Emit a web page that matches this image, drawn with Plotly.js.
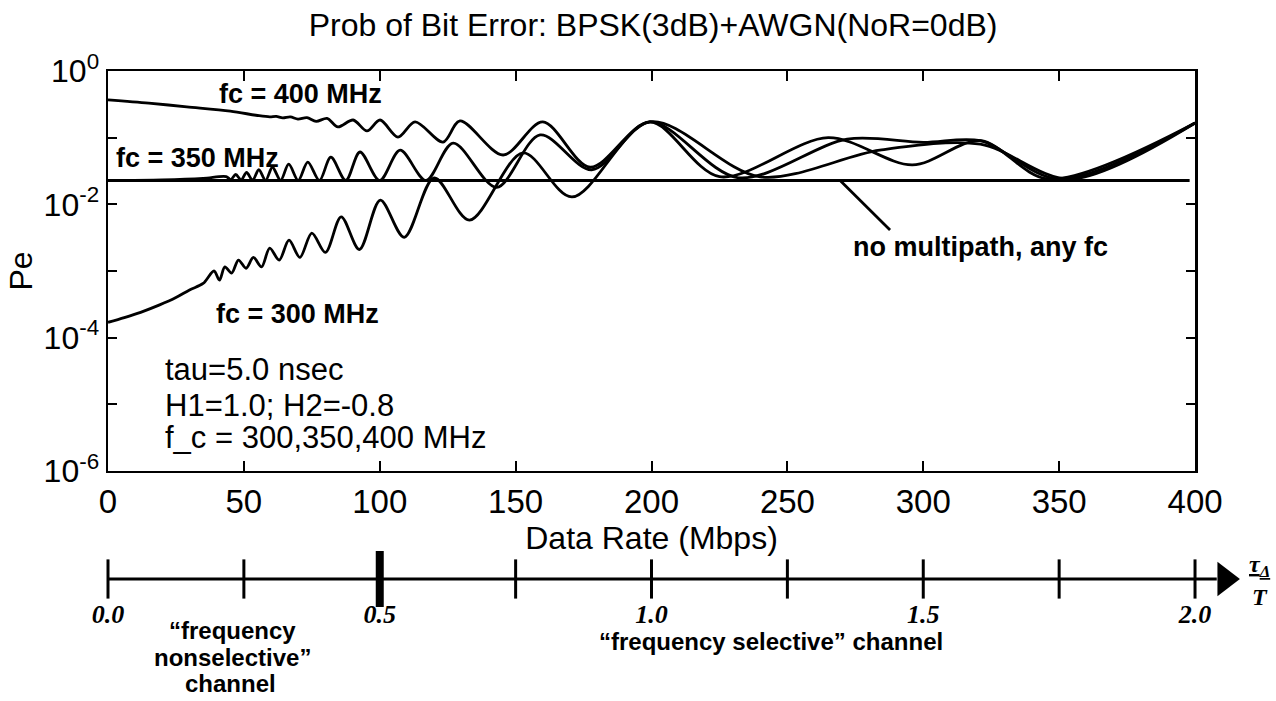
<!DOCTYPE html>
<html><head><meta charset="utf-8">
<script src="https://cdn.plot.ly/plotly-3.0.1.min.js"></script>
<style>html,body{margin:0;padding:0;background:#fff;} #chart{width:1276px;height:701px;}</style>
</head><body><div id="chart"></div>
<script>
// ---- data ----
const rate400 = [0, 15, 29, 45, 55, 59.5, 61.9, 64.3, 67.1, 69.9, 73.2, 76.6, 80.6, 84.6, 90.2, 95.3, 100.1, 106.7, 113, 123.3, 129.5, 145.4, 160, 177.4, 199.4, 225, 265, 296, 321, 346, 400];
const pe400   = [0.37, 0.33, 0.29, 0.25, 0.215, 0.205, 0.208, 0.198, 0.205, 0.19, 0.2, 0.175, 0.195, 0.145, 0.184, 0.126, 0.184, 0.102, 0.172, 0.086, 0.178, 0.055, 0.172, 0.036, 0.172, 0.026, 0.10, 0.039, 0.09, 0.024, 0.166];

const rate350 = [0, 20, 35, 43.5, 45.2, 47, 49, 51, 53.2, 55.5, 58, 60.5, 63.5, 66.5, 70, 73.5, 77.8, 82, 87.5, 92.7, 100, 107.5, 117, 127, 143, 159, 178, 199.4, 232, 272, 300, 321, 350, 400];
const pe350   = [0.0228, 0.0233, 0.0245, 0.026, 0.0235, 0.028, 0.0232, 0.030, 0.0230, 0.033, 0.0229, 0.036, 0.0229, 0.040, 0.0228, 0.043, 0.0228, 0.051, 0.0228, 0.061, 0.0228, 0.065, 0.0228, 0.083, 0.018, 0.11, 0.033, 0.172, 0.025, 0.095, 0.085, 0.09, 0.024, 0.166];

const rate300 = [0, 6, 12, 19, 25, 30, 35, 39, 41, 43, 45.5, 48, 50.8, 53.5, 56.5, 59.5, 63, 66.6, 70.6, 75, 80, 85.8, 92.5, 100.2, 109, 120, 133, 152.7, 170.7, 199.4, 240, 284, 321, 354, 400];
const pe300   = [1.7e-4, 2.0e-4, 2.4e-4, 3.1e-4, 4.0e-4, 5.2e-4, 6.5e-4, 1.0e-3, 7.3e-4, 1.15e-3, 9.3e-4, 1.46e-3, 1.1e-3, 1.6e-3, 1.15e-3, 2.2e-3, 1.46e-3, 2.9e-3, 1.6e-3, 3.7e-3, 1.9e-3, 6.5e-3, 2.1e-3, 1.16e-2, 3.2e-3, 2.5e-2, 5.8e-3, 5.9e-2, 1.29e-2, 0.172, 0.0258, 0.065, 0.08, 0.024, 0.166];

const rateNoMp = [0, 398];
const peNoMp   = [0.0228, 0.0228];

const rateTicks  = [0, 50, 100, 150, 200, 250, 300, 350, 400];
const peTickVals = [1, 0.1, 0.01, 0.001, 1e-4, 1e-5, 1e-6];
const peTickText = ['10<sup>0</sup>', ' ', '10<sup>-2</sup>', ' ', '10<sup>-4</sup>', ' ', '10<sup>-6</sup>'];

const tauMinorTicks = [0, 0.25, 0.75, 1.0, 1.25, 1.5, 1.75, 2.0];
const tauMajorTick  = [0.5];
const tauLabelVals  = [0, 0.5, 1.0, 1.5, 2.0];
const tauLabelText  = ['0.0', '0.5', '1.0', '1.5', '2.0'];
const tauAxisSpan   = [0, 2.04];
const tauArrowAt    = [2.055];

// ---- drawing ----
const SANS = 'Liberation Sans, Arial, Helvetica, sans-serif';
const SERIF = 'Liberation Serif, Times New Roman, serif';
const curveLine = {color: '#000', width: 2.8, shape: 'spline', smoothing: 0.9};

const traces = [
  {x: rate400, y: pe400, mode: 'lines', line: curveLine, xaxis: 'x', yaxis: 'y', hoverinfo: 'skip'},
  {x: rate350, y: pe350, mode: 'lines', line: curveLine, xaxis: 'x', yaxis: 'y', hoverinfo: 'skip'},
  {x: rate300, y: pe300, mode: 'lines', line: curveLine, xaxis: 'x', yaxis: 'y', hoverinfo: 'skip'},
  {x: rateNoMp, y: peNoMp, mode: 'lines', line: {color: '#000', width: 3}, xaxis: 'x', yaxis: 'y', hoverinfo: 'skip'},
  {x: tauAxisSpan, y: tauAxisSpan.map(() => 0), mode: 'lines', line: {color: '#000', width: 3}, xaxis: 'x2', yaxis: 'y2', hoverinfo: 'skip'},
  {x: tauMinorTicks, y: tauMinorTicks.map(() => 0), mode: 'markers', cliponaxis: false,
   marker: {symbol: 'line-ns', size: 28, color: '#000', line: {color: '#000', width: 3}}, xaxis: 'x2', yaxis: 'y2', hoverinfo: 'skip'},
  {x: tauMajorTick, y: [0], mode: 'markers', cliponaxis: false,
   marker: {symbol: 'line-ns', size: 40, color: '#000', line: {color: '#000', width: 8}}, xaxis: 'x2', yaxis: 'y2', hoverinfo: 'skip'},
  {x: tauArrowAt, y: [0], mode: 'markers', cliponaxis: false,
   marker: {symbol: 'triangle-right', size: 30, color: '#000'}, xaxis: 'x2', yaxis: 'y2', hoverinfo: 'skip'}
];

const boldFont = {family: SANS, size: 27, color: '#000', weight: 'bold'};
const plainFont = {family: SANS, size: 31, color: '#000'};
const chanFont = {family: SANS, size: 24, color: '#000', weight: 'bold'};
const fracFont = {family: SERIF, size: 24, color: '#000', weight: 'bold', style: 'italic'};

function note(text, x, y, ref, font, xanchor) {
  return {text: text, x: x, y: y, xref: ref[0], yref: ref[1], showarrow: false, font: font,
          xanchor: xanchor || 'center', yanchor: 'middle'};
}
const DATA = ['x', 'y'], PAPER = ['paper', 'paper'];

const annotations = [
  note('fc = 400 MHz', 70.7, -0.345, DATA, boldFont),
  note('fc = 350 MHz', 32.8, -1.305, DATA, boldFont),
  note('fc = 300 MHz', 69.9, -3.645, DATA, boldFont),
  note('no multipath, any fc', 320.9, -2.64, DATA, boldFont),
  {text: ' ', x: 269.4, y: -1.642, ax: 288.5, ay: -2.415, xref: 'x', yref: 'y', axref: 'x', ayref: 'y',
   showarrow: true, arrowhead: 0, arrowwidth: 2.8, arrowcolor: '#000', font: {size: 2}},
  note('tau=5.0 nsec', 20.2, -4.48, DATA, plainFont, 'left'),
  note('H1=1.0; H2=-0.8', 20.2, -5.02, DATA, plainFont, 'left'),
  note('f_c = 300,350,400 MHz', 20.2, -5.50, DATA, plainFont, 'left'),
  note('\u201Cfrequency', 0.1062, -0.0648, PAPER, chanFont),
  note('nonselective\u201D', 0.1062, -0.1162, PAPER, chanFont),
  note('channel', 0.1045, -0.1676, PAPER, chanFont),
  note('\u201Cfrequency selective\u201D channel', 0.5676, -0.0876, PAPER, chanFont),
  note('<u>\u03C4<sub>\u0394</sub></u>', 0.9863, 0.0571, PAPER, fracFont),
  note('T', 0.9863, -0.0019, PAPER, fracFont)
];

const layout = {
  width: 1276, height: 701,
  margin: {l: 108, r: 0, t: 71, b: 105},
  paper_bgcolor: '#fff', plot_bgcolor: '#fff',
  showlegend: false,
  title: {text: 'Prob of Bit Error: BPSK(3dB)+AWGN(NoR=0dB)', x: 0.5118, xanchor: 'center', xref: 'container',
          y: 0.964, yanchor: 'middle', yref: 'container', font: {family: SANS, size: 32, color: '#000'}},
  xaxis: {domain: [0, 0.9307], range: [0, 400], anchor: 'y', tickvals: rateTicks, ticks: 'inside', ticklen: 10,
          tickwidth: 2, tickcolor: '#000', showline: true, linecolor: '#000', linewidth: 2.5, mirror: 'ticks',
          showgrid: false, zeroline: false, tickfont: {family: SANS, size: 33, color: '#000'},
          title: {text: 'Data Rate (Mbps)', font: {family: SANS, size: 32, color: '#000'}, standoff: 6}},
  yaxis: {domain: [0.2381, 1], type: 'log', range: [-6, 0], anchor: 'x', tickvals: peTickVals, ticktext: peTickText,
          ticks: 'inside', ticklen: 9, tickwidth: 2, tickcolor: '#000', showline: true, linecolor: '#000', linewidth: 2.5,
          mirror: 'ticks', showgrid: false, zeroline: false, tickfont: {family: SANS, size: 32, color: '#000'},
          title: {text: 'Pe', font: {family: SANS, size: 32, color: '#000'}, standoff: 2}},
  xaxis2: {domain: [0, 1], range: [0, 2.149], anchor: 'y2', showline: false, showgrid: false, zeroline: false,
           ticks: '', tickvals: tauLabelVals, ticktext: tauLabelText, ticklabelstandoff: 0,
           tickfont: {family: SERIF, size: 26, color: '#000', weight: 'bold', style: 'italic'}},
  yaxis2: {domain: [0, 0.08], range: [-0.81, 1.19], anchor: 'x2', visible: false},
  annotations: annotations
};

Plotly.newPlot('chart', traces, layout, {staticPlot: true, displayModeBar: false});
</script>
</body></html>
